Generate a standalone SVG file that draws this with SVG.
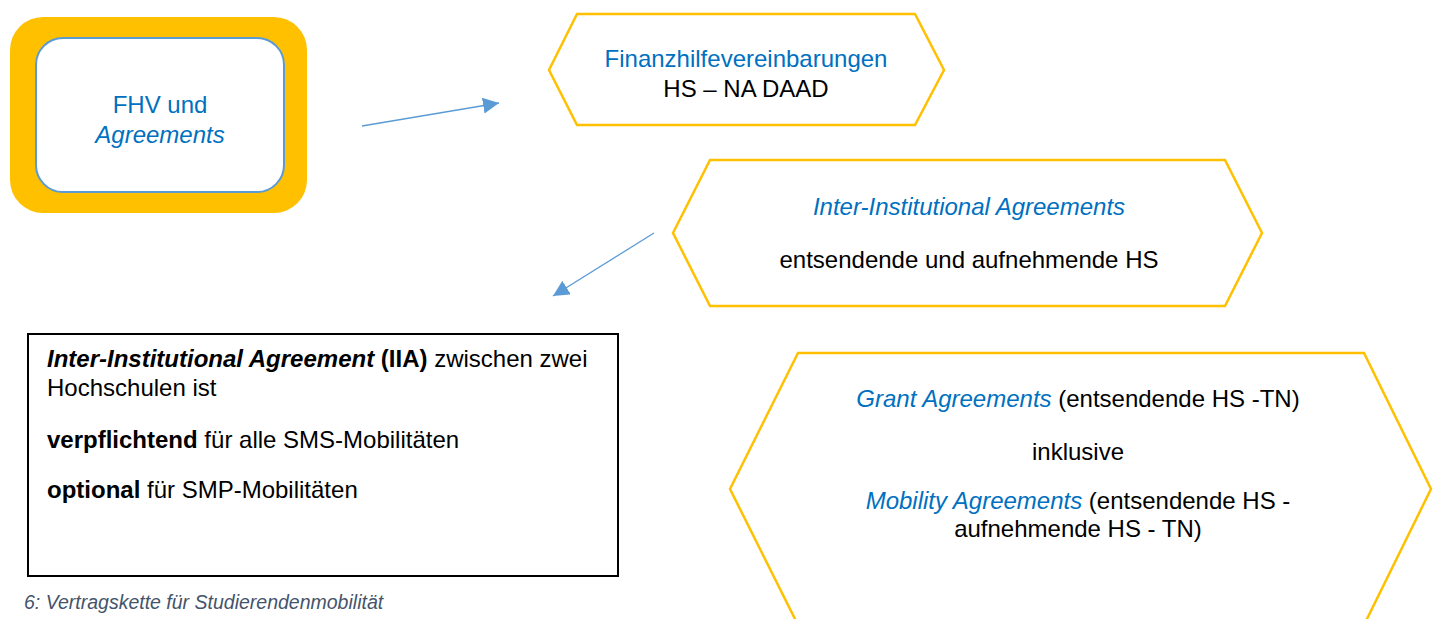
<svg xmlns="http://www.w3.org/2000/svg" width="1437" height="619" viewBox="0 0 1437 619">
<style>
text{font-family:"Liberation Sans",Arial,sans-serif;font-size:24px;fill:#000}
.c{text-anchor:middle}
.b{fill:#0070C0}
.i{font-style:italic}
.bd{font-weight:bold}
.hex{fill:#fff;stroke:#FFC000;stroke-width:2.5;stroke-linejoin:miter}
.conn{stroke:#5B9BD5;stroke-width:1.3;fill:none}
</style>
<defs>
<marker id="ah" markerUnits="userSpaceOnUse" markerWidth="16" markerHeight="16" viewBox="0 0 10 10" refX="10" refY="5" orient="auto">
<path d="M0,0 L10,5 L0,10 z" fill="#5B9BD5"/>
</marker>
</defs>
<rect width="1437" height="619" fill="#fff"/>
<g id="fhv">
<rect x="10" y="17" width="297" height="196" rx="33" ry="33" fill="#FFC000"/>
<rect x="36" y="38" width="248" height="154" rx="27" ry="27" fill="#fff" stroke="#5B9BD5" stroke-width="2"/>
<text class="c b" x="160" y="113">FHV und</text>
<text class="c b i" x="160" y="143">Agreements</text>
</g>
<g id="finanz">
<polygon class="hex" points="549,70 577,14 915,14 944,70 915,125 577,125"/>
<text class="c b" x="746" y="67">Finanzhilfevereinbarungen</text>
<text class="c" x="746" y="97">HS – NA DAAD</text>
</g>
<g id="iia">
<polygon class="hex" points="673,233 710,160 1225,160 1262,233 1225,306 710,306"/>
<text class="c b i" x="969" y="215">Inter-Institutional Agreements</text>
<text class="c" x="969" y="268">entsendende und aufnehmende HS</text>
</g>
<g id="box">
<rect x="28" y="334" width="590" height="242" fill="#fff" stroke="#000" stroke-width="2"/>
<text x="47" y="367"><tspan class="bd i">Inter-Institutional Agreement</tspan> <tspan class="bd">(IIA)</tspan> zwischen zwei</text>
<text x="47" y="396">Hochschulen ist</text>
<text x="47" y="448"><tspan class="bd">verpflichtend</tspan> für alle SMS-Mobilitäten</text>
<text x="47" y="498"><tspan class="bd">optional</tspan> für SMP-Mobilitäten</text>
</g>
<g id="grant">
<polygon class="hex" points="730,489 798,353 1364,353 1431,489 1364,625 798,625"/>
<text class="c" x="1078" y="407"><tspan class="b i">Grant Agreements</tspan> (entsendende HS -TN)</text>
<text class="c" x="1078" y="460">inklusive</text>
<text class="c" x="1078" y="509"><tspan class="b i">Mobility Agreements</tspan> (entsendende HS -</text>
<text class="c" x="1078" y="537">aufnehmende HS - TN)</text>
</g>
<g id="connectors">
<line class="conn" x1="362" y1="126" x2="499" y2="103" marker-end="url(#ah)"/>
<line class="conn" x1="654" y1="233" x2="553" y2="296" marker-end="url(#ah)"/>
</g>
<text id="caption" x="24" y="609" style="font-size:19.5px;font-style:italic;fill:#44546A">6: Vertragskette für Studierendenmobilität</text>
</svg>
